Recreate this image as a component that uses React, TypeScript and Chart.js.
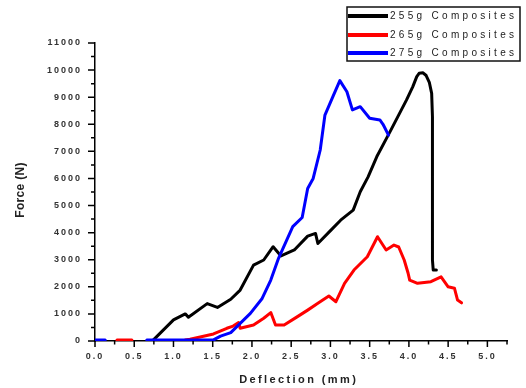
import React, { useEffect, useRef } from 'react';
import { Chart, registerables } from 'chart.js';

Chart.register(...registerables);

const seriesNames = ['255g Composites', '265g Composites', '275g Composites'];
const seriesColors = ['#000000', '#ff0000', '#0000ff'];

const deflection255 = [0.745, 1.0, 1.15, 1.19, 1.43, 1.56, 1.73, 1.85, 2.02, 2.15, 2.27, 2.37, 2.54, 2.71, 2.81, 2.84, 3.01, 3.13, 3.29, 3.38, 3.48, 3.59, 3.76, 3.97, 4.05, 4.10, 4.13, 4.18, 4.22, 4.26, 4.29, 4.30, 4.30, 4.31, 4.35];
const force255 = [40, 780, 1000, 880, 1380, 1240, 1540, 1880, 2800, 2990, 3480, 3140, 3360, 3870, 3970, 3600, 4100, 4460, 4830, 5510, 6060, 6800, 7730, 8900, 9390, 9760, 9880, 9900, 9800, 9550, 9140, 8280, 2990, 2620, 2620];

const deflection265 = [0.28, 0.47, 0.5, 1.15, 1.21, 1.34, 1.51, 1.68, 1.76, 1.83, 1.85, 2.02, 2.15, 2.24, 2.30, 2.41, 2.58, 2.71, 2.84, 2.98, 3.07, 3.18, 3.30, 3.47, 3.60, 3.71, 3.81, 3.87, 3.94, 3.99, 4.01, 4.11, 4.28, 4.41, 4.50, 4.58, 4.62, 4.67];
const force265 = [40, 40, null, 40, 70, 150, 260, 470, 550, 680, 470, 590, 840, 1050, 590, 590, 900, 1140, 1390, 1660, 1450, 2130, 2620, 3110, 3850, 3360, 3540, 3470, 2990, 2500, 2250, 2130, 2190, 2370, 2000, 1950, 1510, 1410];

const deflection275 = [0, 0.13, 0.15, 0.66, 1.51, 1.60, 1.73, 1.85, 1.98, 2.13, 2.24, 2.34, 2.52, 2.64, 2.71, 2.78, 2.87, 2.93, 3.03, 3.12, 3.21, 3.28, 3.38, 3.50, 3.63, 3.67, 3.74];
const force275 = [40, 40, null, 40, 40, 180, 310, 650, 1020, 1570, 2250, 3060, 4220, 4560, 5630, 6000, 7050, 8340, 9010, 9610, 9200, 8530, 8650, 8220, 8160, 8000, 7600];

const xTickValues = [0, 0.5, 1.0, 1.5, 2.0, 2.5, 3.0, 3.5, 4.0, 4.5, 5.0];
const yTickValues = [0, 1000, 2000, 3000, 4000, 5000, 6000, 7000, 8000, 9000, 10000, 11000];
const xMinorStep = 0.25;
const yMinorStep = 500;
const xMax = 5.25;
const yMax = 11000;
const xAxisTitle = 'Deflection (mm)';
const yAxisTitle = 'Force (N)';

const FONT = '"Liberation Sans", Arial, sans-serif';

const zip = (xs: number[], ys: (number | null)[]) => xs.map((x, i) => ({ x, y: ys[i] }));

const decorPlugin = {
  id: 'decor',
  beforeDraw(chart: any) {
    chart.ctx.letterSpacing = '2px';
  },
  afterDraw(chart: any) {
    const ctx = chart.ctx as CanvasRenderingContext2D & { letterSpacing: string };
    const xs = chart.scales.x;
    const ys = chart.scales.y;
    const area = chart.chartArea;
    ctx.save();
    ctx.strokeStyle = '#000';
    ctx.lineWidth = 1.5;
    ctx.beginPath();
    for (let v = 0; v <= yMax + 1e-6; v += yMinorStep) {
      const p = ys.getPixelForValue(v);
      const len = v % 1000 === 0 ? 7 : 4;
      ctx.moveTo(area.left, p);
      ctx.lineTo(area.left - len, p);
    }
    for (let i = 0; i * xMinorStep <= xMax + 1e-6; i++) {
      const v = i * xMinorStep;
      const p = xs.getPixelForValue(v);
      const len = i % 2 === 0 ? 6 : 3.5;
      ctx.moveTo(p, area.bottom);
      ctx.lineTo(p, area.bottom + len);
    }
    ctx.stroke();

    // axis titles
    ctx.fillStyle = '#222';
    ctx.font = `bold 11px ${FONT}`;
    ctx.letterSpacing = '2.4px';
    ctx.textAlign = 'center';
    ctx.textBaseline = 'middle';
    ctx.fillText(xAxisTitle, 298.7, 379.5);

    ctx.save();
    ctx.font = `bold 12px ${FONT}`;
    ctx.letterSpacing = '0.3px';
    ctx.translate(20.5, 190);
    ctx.rotate(-Math.PI / 2);
    ctx.fillText(yAxisTitle, 0, 0);
    ctx.restore();

    // legend
    ctx.lineWidth = 1.5;
    ctx.strokeStyle = '#111';
    ctx.strokeRect(347, 7, 173, 54);
    const rows = [16, 35, 53];
    ctx.font = `10px ${FONT}`;
    ctx.letterSpacing = '3.3px';
    ctx.textAlign = 'left';
    seriesNames.forEach((name, i) => {
      ctx.strokeStyle = seriesColors[i];
      ctx.lineWidth = 4;
      ctx.beginPath();
      ctx.moveTo(348, rows[i]);
      ctx.lineTo(388, rows[i]);
      ctx.stroke();
      ctx.fillStyle = '#222';
      ctx.fillText(name, 390, rows[i] + 0.5);
    });
    ctx.restore();
  },
};

export default function App() {
  const ref = useRef<HTMLCanvasElement | null>(null);
  useEffect(() => {
    if (!ref.current) return;
    const series = [
      zip(deflection255, force255),
      zip(deflection265, force265),
      zip(deflection275, force275),
    ];
    const chart = new Chart(ref.current, {
      type: 'line',
      data: {
        datasets: series.map((d, i) => ({
          label: seriesNames[i],
          data: d,
          borderColor: seriesColors[i],
          backgroundColor: seriesColors[i],
          borderWidth: 3,
          pointRadius: 0,
          tension: 0,
          spanGaps: false,
          borderJoinStyle: 'round' as const,
          borderCapStyle: 'round' as const,
          order: 2 - i,
        })),
      },
      options: {
        animation: false,
        responsive: false,
        devicePixelRatio: 1,
        layout: { padding: { top: 43, right: 19, left: 0, bottom: 0 } },
        plugins: { legend: { display: false }, tooltip: { enabled: false } },
        scales: {
          x: {
            type: 'linear',
            min: 0,
            max: xMax,
            afterFit: (s: any) => { s.height = 47; },
            afterBuildTicks: (s: any) => { s.ticks = xTickValues.map((v) => ({ value: v })); },
            grid: { display: true, drawOnChartArea: false, drawTicks: false },
            border: { display: true, color: '#000', width: 1.5 },
            ticks: {
              padding: 10,
              color: '#333',
              font: { family: FONT, size: 9, weight: 'bold' },
              callback: (v: any) => Number(v).toFixed(1),
              maxRotation: 0,
              autoSkip: false,
            },
          },
          y: {
            type: 'linear',
            min: 0,
            max: yMax,
            afterFit: (s: any) => { s.width = 95; },
            afterBuildTicks: (s: any) => { s.ticks = yTickValues.map((v) => ({ value: v })); },
            grid: { display: true, drawOnChartArea: false, drawTicks: false },
            border: { display: true, color: '#000', width: 1.5 },
            ticks: {
              padding: 13,
              color: '#333',
              font: { family: FONT, size: 9, weight: 'bold' },
              callback: (v: any) => String(v),
              autoSkip: false,
            },
          },
        },
      },
      plugins: [decorPlugin],
    } as any);
    return () => chart.destroy();
  }, []);
  return (
    <canvas
      ref={ref}
      width={526}
      height={388}
      style={{ position: 'absolute', left: 0, top: 0, width: 526, height: 388 }}
    />
  );
}
